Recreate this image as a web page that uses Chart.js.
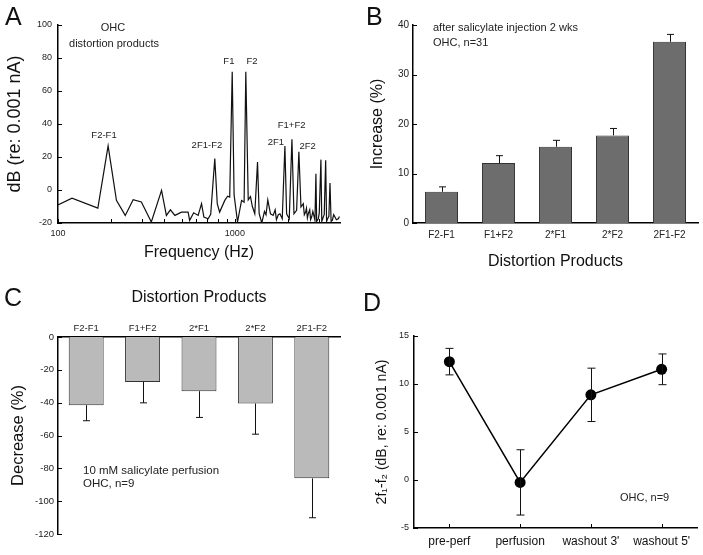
<!DOCTYPE html>
<html><head><meta charset="utf-8">
<script src="https://cdn.jsdelivr.net/npm/chart.js@4.4.1/dist/chart.umd.min.js"></script>
<style>
html,body{margin:0;padding:0;background:#fff}
body{width:703px;height:555px;position:relative;overflow:hidden;font-family:'Liberation Sans',Arial,sans-serif}
canvas{position:absolute;display:block}
.lt{position:absolute;font-size:25px;line-height:1;color:#111}
</style></head><body>
<canvas id="cA" width="350" height="280" style="left:0;top:0"></canvas>
<canvas id="cB" width="353" height="280" style="left:350px;top:0"></canvas>
<canvas id="cC" width="350" height="275" style="left:0;top:280px"></canvas>
<canvas id="cD" width="353" height="275" style="left:350px;top:280px"></canvas>
<div class="lt" style="left:5px;top:4px">A</div>
<div class="lt" style="left:366px;top:4px">B</div>
<div class="lt" style="left:4px;top:285px">C</div>
<div class="lt" style="left:363px;top:290px">D</div>
<script>
// ---------- Panel A: spectrum ----------
const freqHz = [100,120,168,192,214,240,266,296,337,385,410,432,458,499,544,555,585,620,648,668,706,730,770,795,820,877,910,935,966,990,1035,1091,1128,1153,1190,1225,1256,1296,1343,1372,1420,1470,1500,1535,1590,1646,1690,1718,1760,1798,1853,1918,1961,2030,2102,2158,2234,2301,2364,2437,2470,2512,2540,2570,2600,2650,2680,2716,2760,2837,2872,2900,2963,3000,3066,3100,3162,3200,3261,3300,3346,3400,3450,3500,3556,3620,3681,3750,3846,3900];
const specDb = [-9,-5,-11,26.7,-6.3,-15.4,-5.9,-7.3,-19.4,-0.2,-15.4,-12,-15.4,-13.4,-13.4,-18.4,-13.8,-15.4,-8.3,-16.4,-17.4,-14.8,19,-8.3,-13.4,-6.3,-3.8,-4.3,71.7,-3,-19.4,-6.3,-7.3,71.7,-6,-4,-10,-14.4,17,-14.4,-20,-13,-15,-6,-14.4,-15.4,-12,-18,-15,-14.4,-17.4,26.7,-14.4,-17.4,30.8,-14.4,-12.3,23.1,-10.3,-8.3,-15,-13.4,-11,-17,-14.4,-12,-18,-16.4,-13,-18.4,9.9,-19,-17.4,-14,18.4,-19,-16.4,-15,18,-19,-17.4,-16,4.3,-19,-18.4,-15,-16.4,-18,-17.4,-16];
const freqTicks = [100,200,300,400,500,600,700,800,900,1000,2000,3000];
const freqLabels = [100,1000];
const dbTicks = [-20,0,20,40,60,80,100];

// ---------- Panel B: increase after injection ----------
const dpCats = ['F2-F1','F1+F2','2*F1','2*F2','2F1-F2'];
const incMean = [6.3,12.1,15.4,17.7,36.6];
const incErr = [1.0,1.5,1.3,1.4,1.5];
const incTicks = [0,10,20,30,40];

// ---------- Panel C: decrease during perfusion ----------
const decMean = [-41.5,-27.4,-33,-40.5,-86.1];
const decErr = [9.5,12.7,16,18.7,24];
const decTicks = [0,-20,-40,-60,-80,-100,-120];

// ---------- Panel D: 2f1-f2 time course ----------
const condCats = ["pre-perf","perfusion","washout 3'","washout 5'"];
const dpMean = [12.33,-0.25,8.87,11.53];
const dpErr = [1.38,3.4,2.78,1.6];
const dpTicks = [-5,0,5,10,15];

const FF = "'Liberation Sans', Arial, sans-serif";
Chart.defaults.font.family = FF;
Chart.defaults.color = '#222';
Chart.defaults.animation = false;
Chart.defaults.plugins.legend.display = false;
Chart.defaults.plugins.tooltip.enabled = false;

function inTicks(axes){
  return {id:'inTicks', afterDraw(chart){
    const ctx = chart.ctx, ca = chart.chartArea;
    ctx.save(); ctx.strokeStyle = '#000'; ctx.lineWidth = 1;
    axes.forEach(a=>{
      const sc = chart.scales[a.id];
      sc.ticks.forEach((t,i)=>{
        const p = Math.round(sc.getPixelForTick(i)) + 0.5;
        ctx.beginPath();
        if (sc.isHorizontal()){
          const y0 = sc.position === 'top' ? ca.top : ca.bottom;
          const d = sc.position === 'top' ? a.len : -a.len;
          ctx.moveTo(p, y0); ctx.lineTo(p, y0 + d);
        } else {
          ctx.moveTo(ca.left, p); ctx.lineTo(ca.left + a.len, p);
        }
        ctx.stroke();
      });
    });
    ctx.restore();
  }};
}
function errBars(err, dir, cap, width){
  return {id:'errBars', afterDatasetsDraw(chart){
    const meta = chart.getDatasetMeta(0), ys = chart.scales.y, vals = chart.data.datasets[0].data, ctx = chart.ctx;
    ctx.save(); ctx.strokeStyle = '#111'; ctx.lineWidth = width;
    meta.data.forEach((el,i)=>{
      const v = vals[i], e = err[i], x = Math.round(el.x) + 0.5;
      const hi = dir === 'down' ? v : v + e;
      const lo = dir === 'up' ? v : v - e;
      const yh = ys.getPixelForValue(hi), yl = ys.getPixelForValue(lo);
      ctx.beginPath(); ctx.moveTo(x, yh); ctx.lineTo(x, yl);
      if (dir !== 'down'){ ctx.moveTo(x-cap, yh); ctx.lineTo(x+cap, yh); }
      if (dir !== 'up'){ ctx.moveTo(x-cap, yl); ctx.lineTo(x+cap, yl); }
      ctx.stroke();
    });
    ctx.restore();
  }};
}
function notes(items){
  return {id:'notes', afterDraw(chart){
    const ctx = chart.ctx, ca = chart.chartArea;
    items.forEach(n=>{
      ctx.save();
      ctx.font = (n.size||10) + 'px ' + FF;
      ctx.fillStyle = '#222'; ctx.textAlign = n.align || 'left'; ctx.textBaseline = 'middle';
      let x, y;
      if (n.fx !== undefined){ x = chart.scales.x.getPixelForValue(n.fx); y = chart.scales.y.getPixelForValue(n.fy); }
      else { x = ca.left + n.ax; y = ca.top + n.ay; }
      ctx.fillText(n.text, x, y);
      ctx.restore();
    });
  }};
}
const axisBorder = {display:true, color:'#000', width:1.5};
const noGrid = {display:false, drawTicks:false};

// ---------- A ----------
new Chart(document.getElementById('cA'), {
  type:'line',
  data:{datasets:[{data: freqHz.map((f,i)=>({x:f, y:specDb[i]})), borderColor:'#111', borderWidth:1.2, pointRadius:0, tension:0, fill:false}]},
  options:{
    responsive:false,
    layout:{padding:{top:25,right:10,bottom:0,left:0}},
    scales:{
      x:{type:'logarithmic', min:100, max:3930,
         afterBuildTicks: ax=>{ ax.ticks = freqTicks.map(v=>({value:v})); },
         ticks:{autoSkip:false, maxRotation:0, font:{size:9}, padding:5, callback:(v)=> freqLabels.includes(v) ? String(v) : ''},
         grid:noGrid, border:axisBorder,
         title:{display:true, text:'Frequency (Hz)', color:'#111', font:{size:16}, padding:{top:0,bottom:18}},
         afterFit: s=>{ s.height = 57; }},
      y:{min:-20, max:100,
         afterBuildTicks: ax=>{ ax.ticks = dbTicks.map(v=>({value:v})); },
         ticks:{font:{size:9}, padding:6},
         grid:noGrid, border:axisBorder,
         title:{display:true, text:'dB (re: 0.001 nA)', color:'#111', font:{size:18}, padding:{top:4,bottom:0}},
         afterFit: s=>{ s.width = 58; }}
    }
  },
  plugins:[inTicks([{id:'x',len:4},{id:'y',len:4}]), notes([
    {text:'OHC', ax:55, ay:3, size:11, align:'center'},
    {text:'distortion products', ax:56, ay:19, size:11, align:'center'},
    {text:'F2-F1', fx:182, fy:33.3, size:9.5, align:'center'},
    {text:'2F1-F2', fx:695, fy:27.3, size:9.5, align:'center'},
    {text:'F1', fx:925, fy:78.2, size:9.5, align:'center'},
    {text:'F2', fx:1250, fy:78.2, size:9.5, align:'center'},
    {text:'F1+F2', fx:2093, fy:39.4, size:9.5, align:'center'},
    {text:'2F1', fx:1705, fy:29, size:9.5, align:'center'},
    {text:'2F2', fx:2580, fy:26.7, size:9.5, align:'center'}
  ])]
});

// ---------- B ----------
new Chart(document.getElementById('cB'), {
  type:'bar',
  data:{labels:dpCats, datasets:[{data:incMean, backgroundColor:'#6d6d6d', borderColor:'#333', borderWidth:1, categoryPercentage:1, barPercentage:0.58}]},
  options:{
    responsive:false,
    layout:{padding:{top:25,right:5,bottom:0,left:0}},
    scales:{
      x:{grid:noGrid, border:axisBorder, ticks:{font:{size:10}, padding:6, maxRotation:0, autoSkip:false},
         title:{display:true, text:'Distortion Products', color:'#111', font:{size:16}, padding:{top:0,bottom:8.4}},
         afterFit: s=>{ s.height = 57; }},
      y:{min:0, max:40, afterBuildTicks: ax=>{ ax.ticks = incTicks.map(v=>({value:v})); },
         ticks:{font:{size:10}, padding:4}, grid:noGrid, border:axisBorder,
         title:{display:true, text:'Increase (%)', color:'#111', font:{size:16}, padding:{top:18.4,bottom:0}},
         afterFit: s=>{ s.width = 63; }}
    }
  },
  plugins:[inTicks([{id:'y',len:4}]), errBars(incErr,'up',3.5,1), notes([
    {text:'after salicylate injection 2 wks', ax:20, ay:3, size:11},
    {text:'OHC, n=31', ax:20, ay:18, size:11}
  ])]
});

// ---------- C ----------
new Chart(document.getElementById('cC'), {
  type:'bar',
  data:{labels:dpCats, datasets:[{data:decMean, backgroundColor:'#bababa', borderColor:'#333', borderWidth:1, categoryPercentage:1, barPercentage:0.62}]},
  options:{
    responsive:false,
    layout:{padding:{top:0,right:10,bottom:21,left:0}},
    scales:{
      x:{position:'top', grid:noGrid, border:axisBorder, ticks:{font:{size:9.5}, padding:3.3, maxRotation:0, autoSkip:false},
         title:{display:true, text:'Distortion Products', color:'#111', font:{size:16}, padding:{top:8.4,bottom:0}},
         afterFit: s=>{ s.height = 57; }},
      y:{min:-120, max:0, afterBuildTicks: ax=>{ ax.ticks = decTicks.map(v=>({value:v})); },
         ticks:{font:{size:9.5}, padding:4}, grid:noGrid, border:axisBorder,
         title:{display:true, text:'Decrease (%)', color:'#111', font:{size:16.5}, padding:{top:8.5,bottom:0}},
         afterFit: s=>{ s.width = 58; }}
    }
  },
  plugins:[inTicks([{id:'y',len:4}]), errBars(decErr,'down',3.5,1), notes([
    {text:'10 mM salicylate perfusion', ax:25, ay:134, size:11.5},
    {text:'OHC, n=9', ax:25, ay:147, size:11.5}
  ])]
});

// ---------- D ----------
new Chart(document.getElementById('cD'), {
  type:'line',
  data:{labels:condCats, datasets:[{data:dpMean, borderColor:'#000', borderWidth:1.5, tension:0, pointRadius:5.5, pointBackgroundColor:'#000', pointBorderColor:'#000', pointBorderWidth:0, fill:false}]},
  options:{
    responsive:false,
    layout:{padding:{top:56,right:6,bottom:0,left:0}},
    scales:{
      x:{offset:true, grid:noGrid, border:axisBorder, ticks:{font:{size:12}, padding:6.8, maxRotation:0, autoSkip:false, color:'#111'},
         afterFit: s=>{ s.height = 27; }},
      y:{min:-5, max:15, afterBuildTicks: ax=>{ ax.ticks = dpTicks.map(v=>({value:v})); },
         ticks:{font:{size:9}, padding:5}, grid:noGrid, border:axisBorder,
         title:{display:true, text:'2f\u2081-f\u2082 (dB, re: 0.001 nA)', color:'#111', font:{size:14}, padding:{top:23.3,bottom:0}},
         afterFit: s=>{ s.width = 64; }}
    }
  },
  plugins:[inTicks([{id:'x',len:4},{id:'y',len:4}]), errBars(dpErr,'both',4,1), notes([
    {text:'OHC, n=9', ax:206, ay:162, size:11}
  ])]
});
</script>
</body></html>
